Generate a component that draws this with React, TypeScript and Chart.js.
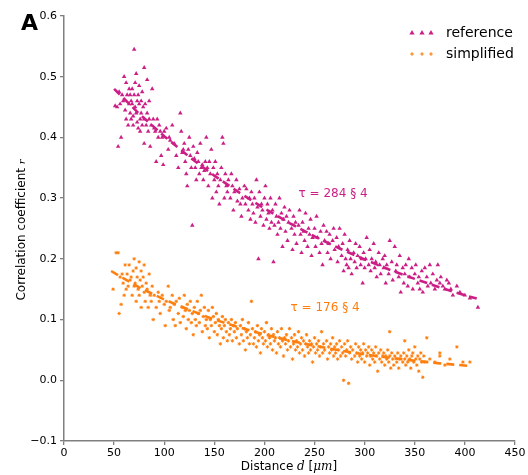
import React, { useEffect, useRef } from "react";
import { Chart, registerables } from "chart.js";

Chart.register(...registerables);

const refD = [51,53,54,55,56,57,58,59,60,61,62,62,63,64,65,65,
66,66,67,67,68,68,69,69,70,70,71,71,72,72,73,73,74,74,75,75,76,76,77,77,78,78,79,80,80,80,
81,82,83,83,84,85,85,86,87,88,89,90,91,92,93,94,95,96,97,98,99,100,
102,104,105,106,108,110,112,114,116,117,118,119,120,121,122,123,124,125,126,127,128,129,130,
131,132,133,134,135,136,137,138,139,140,141,142,143,144,145,146,147,148,149,150,151,152,153,154,155,156,157,158,159,160,
161,162,163,164,166,167,168,169,170,172,173,175,176,177,178,180,181,182,184,185,186,187,188,189,190,191,192,193,194,195,196,197,198,199,200,
201,202,203,204,205,206,207,208,209,210,211,212,213,214,215,216,217,218,219,220,221,222,223,224,225,227,228,229,230,231,232,234,235,236,237,238,239,240,
241,243,244,245,246,247,248,250,251,252,253,255,256,257,258,259,260,262,263,264,265,266,268,269,270,272,273,274,275,277,278,279,280,281,282,283,284,285,286,287,289,290,291,292,293,295,296,297,298,299,300,
301,302,304,305,306,307,309,310,311,312,314,315,316,318,319,320,321,322,324,325,327,328,330,331,332,334,335,336,338,339,340,341,343,344,345,347,348,350,351,353,354,355,357,358,360,
362,363,365,366,368,370,372,373,375,376,378,380,382,384,386,388,392,395,400,405,413];
const refR = [0.452,0.45,0.385,0.475,0.455,0.40,0.47,0.46,0.50,0.445,0.49,0.43,0.47,0.42,0.48,0.455,
0.44,0.47,0.46,0.43,0.48,0.455,0.435,0.42,0.545,0.47,0.45,0.49,0.505,0.44,0.46,0.425,0.47,0.415,0.455,0.485,0.43,0.41,0.46,0.44,0.42,0.475,0.45,0.515,0.43,0.39,
0.455,0.42,0.495,0.44,0.41,0.43,0.46,0.385,0.42,0.48,0.43,0.415,0.41,0.36,0.43,0.40,0.42,0.41,0.37,0.40,0.355,0.41,
0.415,0.38,0.40,0.395,0.42,0.39,0.37,0.35,0.44,0.41,0.375,0.38,0.39,0.36,0.34,0.32,0.38,0.40,0.37,0.35,0.255,0.385,0.365,
0.35,0.33,0.375,0.36,0.34,0.39,0.35,0.355,0.33,0.345,0.36,0.40,0.35,0.32,0.36,0.34,0.38,0.30,0.35,0.33,0.36,0.31,0.34,0.32,0.29,0.33,0.35,0.40,0.39,0.30,
0.34,0.32,0.31,0.33,0.30,0.34,0.32,0.28,0.31,0.33,0.295,0.315,0.29,0.27,0.30,0.32,0.29,0.315,0.28,0.30,0.265,0.31,0.29,0.275,0.30,0.26,0.33,0.285,0.20,0.31,0.27,0.29,0.28,0.255,0.30,
0.32,0.265,0.29,0.275,0.25,0.30,0.26,0.28,0.195,0.255,0.29,0.27,0.24,0.26,0.30,0.25,0.275,0.22,0.265,0.285,0.245,0.27,0.23,0.26,0.28,0.25,0.215,0.27,0.24,0.26,0.225,0.255,0.28,0.24,0.21,0.26,0.245,0.23,
0.275,0.22,0.25,0.24,0.265,0.205,0.235,0.25,0.22,0.27,0.235,0.21,0.245,0.225,0.19,0.255,0.23,0.245,0.21,0.225,0.24,0.20,0.23,0.25,0.215,0.235,0.195,0.22,0.25,0.205,0.225,0.18,0.24,0.20,0.19,0.215,0.185,0.23,0.20,0.175,0.21,0.195,0.225,0.185,0.205,0.22,0.19,0.20,0.16,0.21,0.185,
0.20,0.235,0.19,0.215,0.18,0.20,0.225,0.185,0.195,0.17,0.21,0.19,0.175,0.20,0.185,0.205,0.16,0.19,0.175,0.23,0.195,0.165,0.22,0.18,0.19,0.17,0.205,0.145,0.185,0.16,0.175,0.19,0.155,0.20,0.17,0.185,0.15,0.175,0.19,0.16,0.17,0.15,0.18,0.145,0.185,
0.17,0.155,0.19,0.16,0.175,0.15,0.165,0.19,0.16,0.17,0.155,0.15,0.165,0.16,0.15,0.14,0.155,0.145,0.14,0.135,0.12];

const simpD = [49,52,54,55,56,57,58,59,60,61,62,63,64,65,
66,67,68,69,70,70,71,72,72,73,74,75,75,76,77,77,78,79,80,80,81,82,83,84,85,86,87,88,89,90,
92,94,95,96,98,100,101,102,104,105,106,108,109,110,111,112,114,115,116,118,119,120,121,122,123,124,125,126,127,128,129,130,
131,132,133,134,135,136,137,138,139,140,141,142,143,144,145,146,147,148,149,150,151,152,153,154,155,156,157,158,159,160,161,162,163,164,165,166,167,168,169,170,
171,172,173,175,176,177,178,179,180,181,182,183,184,185,186,187,188,189,190,191,192,193,194,195,196,197,198,199,200,201,202,203,204,205,206,207,208,209,210,211,212,213,214,215,216,217,218,219,220,
221,222,223,224,225,226,227,228,229,230,231,232,233,234,235,236,237,238,239,240,241,242,243,244,245,246,247,248,249,250,251,252,253,254,255,256,257,258,259,260,262,263,264,265,266,267,268,269,270,271,272,273,274,275,276,277,278,279,280,
281,282,283,284,285,286,287,288,290,291,292,293,294,295,296,297,298,299,300,301,302,303,304,305,306,307,308,309,310,311,312,313,314,315,316,317,318,319,320,321,322,323,324,325,325,326,327,328,329,330,332,333,334,335,336,338,339,340,340,
341,342,343,344,345,346,347,348,349,350,351,352,353,354,355,356,357,358,359,360,362,365,370,375,375,380,385,392,398,405];
const simpR = [0.15,0.21,0.21,0.11,0.17,0.125,0.175,0.16,0.14,0.19,0.15,0.175,0.155,0.19,
0.165,0.17,0.14,0.18,0.20,0.155,0.16,0.185,0.13,0.17,0.15,0.195,0.14,0.165,0.18,0.12,0.155,0.17,0.145,0.19,0.13,0.16,0.15,0.12,0.175,0.14,0.13,0.155,0.10,0.14,
0.12,0.145,0.13,0.11,0.14,0.125,0.09,0.13,0.155,0.115,0.12,0.14,0.10,0.125,0.09,0.13,0.11,0.135,0.095,0.12,0.105,0.14,0.115,0.085,0.125,0.10,0.115,0.13,0.095,0.11,0.075,0.12,
0.10,0.09,0.13,0.11,0.095,0.115,0.14,0.08,0.105,0.12,0.09,0.10,0.085,0.115,0.07,0.10,0.09,0.12,0.105,0.08,0.095,0.11,0.075,0.10,0.09,0.06,0.085,0.105,0.07,0.09,0.10,0.08,0.065,0.095,0.075,0.085,0.10,0.065,0.09,0.08,
0.095,0.07,0.085,0.06,0.09,0.075,0.10,0.065,0.085,0.05,0.08,0.07,0.095,0.06,0.075,0.13,0.085,0.06,0.07,0.08,0.055,0.09,0.065,0.075,0.045,0.085,0.07,0.06,0.08,0.065,0.095,0.055,0.075,0.07,0.06,0.085,0.05,0.075,0.065,0.07,0.045,0.08,0.06,0.07,0.055,0.085,0.065,0.04,0.07,
0.06,0.075,0.05,0.065,0.085,0.055,0.07,0.035,0.06,0.075,0.05,0.065,0.055,0.08,0.045,0.06,0.07,0.05,0.065,0.04,0.06,0.075,0.055,0.045,0.065,0.05,0.06,0.03,0.055,0.07,0.045,0.06,0.05,0.065,0.04,0.055,0.08,0.045,0.06,0.05,0.065,0.035,0.055,0.045,0.06,0.05,0.07,0.04,0.055,0.045,0.06,0.035,0.05,0.065,0.04,0.055,0.045,0.0,0.06,
0.04,0.05,0.065,-0.005,0.045,0.055,0.035,0.05,0.04,0.06,0.045,0.03,0.055,0.04,0.05,0.035,0.045,0.06,0.03,0.05,0.04,0.045,0.055,0.025,0.04,0.05,0.035,0.045,0.03,0.055,0.04,0.015,0.045,0.035,0.05,0.03,0.04,0.045,0.025,0.04,0.035,0.05,0.03,0.04,0.08,0.02,0.045,0.035,0.025,0.04,0.03,0.045,0.02,0.035,0.04,0.03,0.045,0.035,0.065,
0.025,0.04,0.03,0.05,0.035,0.02,0.04,0.045,0.03,0.055,0.035,0.025,0.04,0.015,0.035,0.045,0.03,0.005,0.04,0.03,0.07,0.035,0.03,0.045,0.04,0.025,0.035,0.055,0.03,0.03];

const refFitD = [50,75,100,125,150,175,200,225,250,275,300,325,350,375,400,413];
const refFitR = [0.480,0.439,0.402,0.368,0.337,0.309,0.283,0.259,0.237,0.217,0.199,0.182,0.167,0.153,0.140,0.134];
const simpFitD = [47,75,100,125,150,175,200,225,250,275,300,325,350,375,405];
const simpFitR = [0.180,0.153,0.133,0.116,0.100,0.087,0.0754,0.0654,0.0568,0.0493,0.0427,0.0371,0.0322,0.0279,0.0235];

const xTicks = [0,50,100,150,200,250,300,350,400,450];
const yTicks = [-0.1,0.0,0.1,0.2,0.3,0.4,0.5,0.6];
const seriesNames = ["reference", "simplified"];
const tauLabels = ["τ = 284 § 4", "τ = 176 § 4"];

const MAG = "#cc1f86";
const ORA = "#ff7f0e";
const FONT = "'DejaVu Sans', sans-serif";

function pts(xs: number[], ys: number[]) {
  return xs.map((x, i) => ({ x, y: ys[i] }));
}

const overlay = {
  id: "overlay",
  afterDraw(chart: any) {
    const ctx = chart.ctx;
    const xs = chart.scales.x;
    const ys = chart.scales.y;
    ctx.save();
    ctx.fillStyle = "#000";
    ctx.font = `bold 22px ${FONT}`;
    ctx.textBaseline = "alphabetic";
    ctx.textAlign = "left";
    ctx.fillText("A", 21, 30);

    ctx.font = `12px ${FONT}`;
    ctx.textBaseline = "middle";
    ctx.fillStyle = MAG;
    ctx.fillText(tauLabels[0], xs.getPixelForValue(234), ys.getPixelForValue(0.307));
    ctx.fillStyle = ORA;
    ctx.fillText(tauLabels[1], xs.getPixelForValue(226), ys.getPixelForValue(0.12));

    const legendY = [33, 54];
    const mx = [412, 422, 431];
    const colors = [MAG, ORA];
    for (let k = 0; k < 2; k++) {
      for (const x of mx) {
        ctx.fillStyle = colors[k];
        ctx.strokeStyle = colors[k];
        if (k === 0) {
          ctx.beginPath();
          ctx.moveTo(x, legendY[k] - 3);
          ctx.lineTo(x + 2.6, legendY[k] + 1.5);
          ctx.lineTo(x - 2.6, legendY[k] + 1.5);
          ctx.closePath();
          ctx.fill();
        } else {
          ctx.lineWidth = 1.2;
          ctx.beginPath();
          ctx.moveTo(x - 1.8, legendY[k]);
          ctx.lineTo(x + 1.8, legendY[k]);
          ctx.moveTo(x, legendY[k] - 1.8);
          ctx.lineTo(x, legendY[k] + 1.8);
          ctx.stroke();
        }
      }
      ctx.fillStyle = "#000";
      ctx.font = `14px ${FONT}`;
      ctx.textBaseline = "middle";
      ctx.fillText(seriesNames[k], 446, legendY[k]);
    }

    const drawParts = (cx: number, cy: number, ps: [string, string][]) => {
      let w = 0;
      for (const [t, f] of ps) { ctx.font = f; w += ctx.measureText(t).width; }
      let x = cx - w / 2;
      ctx.textAlign = "left";
      ctx.textBaseline = "middle";
      ctx.fillStyle = "#000";
      for (const [t, f] of ps) { ctx.font = f; ctx.fillText(t, x, cy); x += ctx.measureText(t).width; }
    };
    drawParts(289, 467, [
      ["Distance ", `12px ${FONT}`],
      ["d", `italic 12px 'DejaVu Serif', serif`],
      [" [", `12px ${FONT}`],
      ["μm", `italic 12px 'DejaVu Serif', serif`],
      ["]", `12px ${FONT}`],
    ]);

    ctx.translate(22, 230);
    ctx.rotate(-Math.PI / 2);
    drawParts(0, 0, [
      ["Correlation coefficient ", `12px ${FONT}`],
      ["r", `italic 10px 'DejaVu Serif', serif`],
    ]);
    ctx.restore();
  },
};

export default function App() {
  const ref = useRef<HTMLCanvasElement>(null);
  useEffect(() => {
    const chart = new Chart(ref.current!, {
      type: "scatter",
      data: {
        datasets: [
          {
            label: "reference fit",
            data: pts(refFitD, refFitR),
            showLine: true,
            borderColor: MAG,
            borderWidth: 2.6,
            borderDash: [8, 5],
            pointRadius: 0,
            fill: false,
          },
          {
            label: "simplified fit",
            data: pts(simpFitD, simpFitR),
            showLine: true,
            borderColor: ORA,
            borderWidth: 2.6,
            borderDash: [8, 5],
            pointRadius: 0,
            fill: false,
          },
          {
            label: seriesNames[0],
            data: pts(refD, refR),
            pointStyle: "triangle",
            pointRadius: 2.6,
            backgroundColor: MAG,
            borderColor: MAG,
            borderWidth: 0,
          },
          {
            label: seriesNames[1],
            data: pts(simpD, simpR),
            pointStyle: "star",
            pointRadius: 1.7,
            backgroundColor: ORA,
            borderColor: ORA,
            borderWidth: 1,
          },
        ],
      },
      options: {
        responsive: false,
        animation: false,
        layout: { padding: { top: 16, right: 13, left: 0, bottom: 0 } },
        plugins: { legend: { display: false }, tooltip: { enabled: false } },
        scales: {
          x: {
            type: "linear",
            min: 0,
            max: 450,
            afterBuildTicks: (s: any) => { s.ticks = xTicks.map((v) => ({ value: v })); },
            afterFit: (s: any) => { s.height = 34; },
            ticks: { color: "#000", font: { family: FONT, size: 11 }, padding: 2 },
            grid: { drawOnChartArea: false, drawTicks: true, tickLength: 4, color: "#808080", lineWidth: 1.3 },
            border: { color: "#808080", width: 1.5 },
          },
          y: {
            type: "linear",
            min: -0.1,
            max: 0.6,
            afterBuildTicks: (s: any) => { s.ticks = yTicks.map((v) => ({ value: v })); },
            afterFit: (s: any) => { s.width = 64; },
            ticks: {
              color: "#000",
              font: { family: FONT, size: 11 },
              padding: 3,
              callback: (v: any) => (v < -1e-9 ? "−" : "") + Math.abs(Number(v)).toFixed(1),
            },
            grid: { drawOnChartArea: false, drawTicks: true, tickLength: 4, color: "#808080", lineWidth: 1.3 },
            border: { color: "#808080", width: 1.5 },
          },
        },
      },
      plugins: [overlay],
    } as any);
    return () => chart.destroy();
  }, []);
  return (
    <div style={{ position: "fixed", left: 0, top: 0, width: 528, height: 475, background: "#fff" }}>
      <canvas ref={ref} width={528} height={475} style={{ display: "block" }} />
    </div>
  );
}
